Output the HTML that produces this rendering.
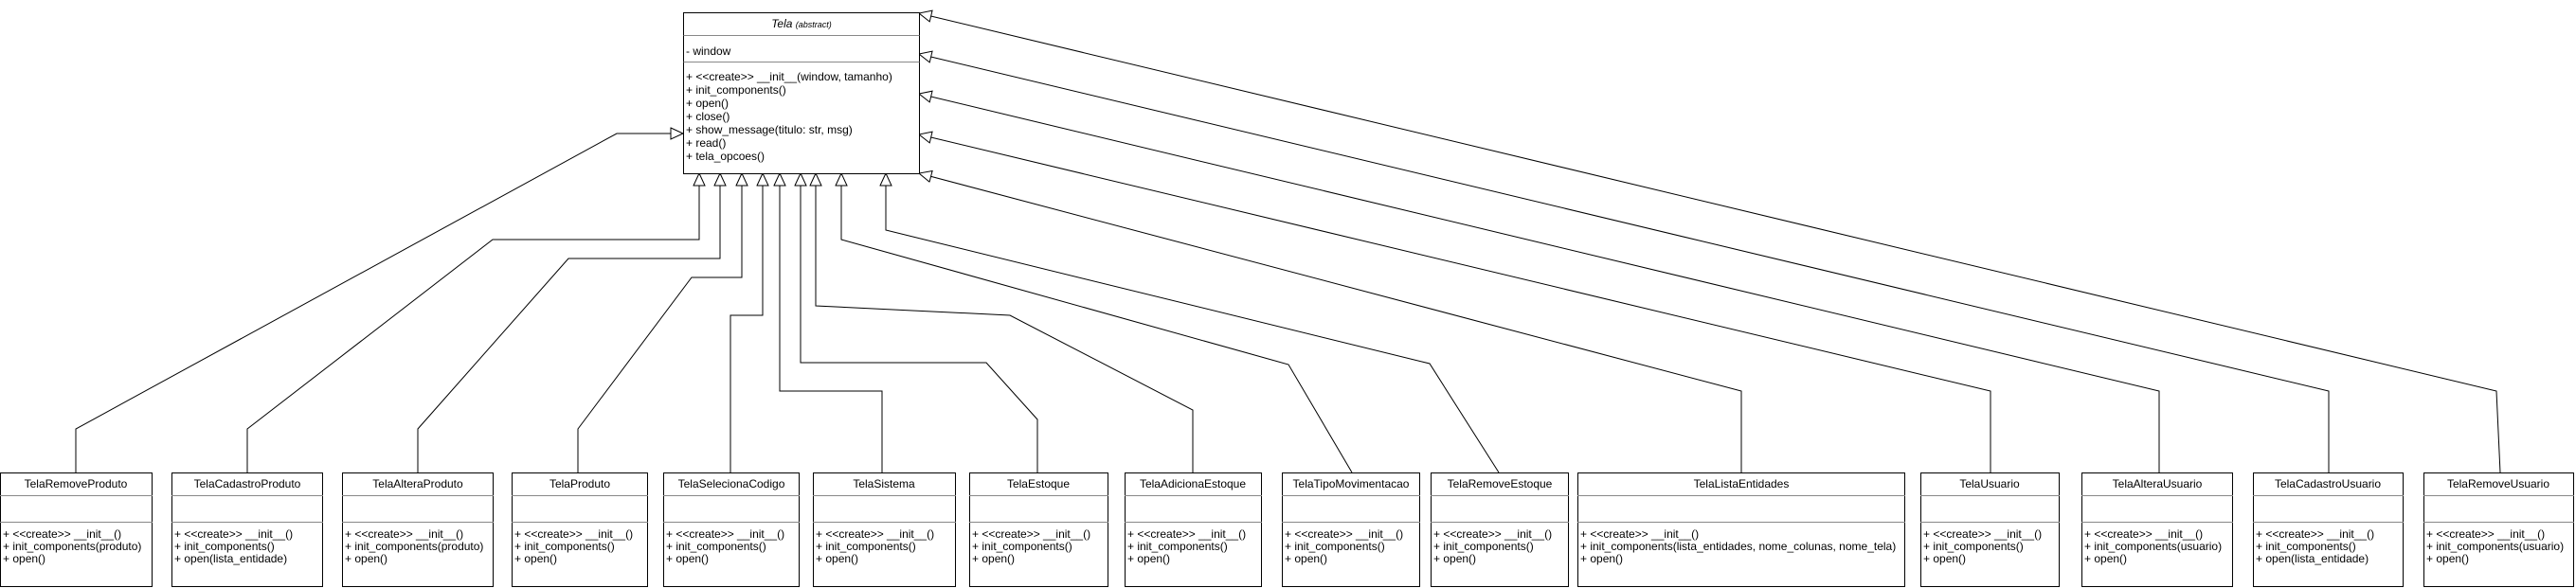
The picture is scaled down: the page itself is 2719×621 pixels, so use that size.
<!DOCTYPE html>
<html><head><meta charset="utf-8"><style>
html,body{margin:0;padding:0;background:#fff;}
svg{display:block;}
text{font-family:"Liberation Sans",Arial,sans-serif;font-size:12px;fill:#000;}
</style></head><body>
<svg width="2719" height="621" viewBox="0 0 2719 621" xmlns="http://www.w3.org/2000/svg">
<defs>
<marker id="a" markerUnits="userSpaceOnUse" markerWidth="16" markerHeight="14" refX="14" refY="6.5" orient="auto">
<path d="M1,0.5 L14,6.5 L1,12.5 Z" fill="#fff" stroke="#000" stroke-width="1"/>
</marker>
</defs>
<g fill="none" stroke="#000" stroke-width="1" marker-end="url(#a)">
<polyline points="80,499 80,453 651,141 721,141"/>
<polyline points="261,499 261,453 520,253 738,253 738,183"/>
<polyline points="441,499 441,453 600,273 760,273 760,183"/>
<polyline points="610,499 610,453 730,293 783,293 783,183"/>
<polyline points="771,499 771,333 805,333 805,183"/>
<polyline points="931,499 931,413 823,413 823,183"/>
<polyline points="1095,499 1095,443 1041,383 845,383 845,183"/>
<polyline points="1259,499 1259,433 1066,333 861,323 861,183"/>
<polyline points="1427,499 1360,385 888,253 888,183"/>
<polyline points="1582,499 1509,384 935,243 935,183"/>
<polyline points="1838,499 1838,413 970,183"/>
<polyline points="2101,499 2101,413 970,142"/>
<polyline points="2279,499 2279,413 970,99"/>
<polyline points="2458,499 2458,413 970,57"/>
<polyline points="2639,499 2635,413 970,14"/>
</g>

<!-- Tela -->
<rect x="721.5" y="13.5" width="249" height="170" fill="#fff" stroke="#000"/>
<line x1="721.5" y1="37.5" x2="970.5" y2="37.5" stroke="#888"/>
<line x1="721.5" y1="65.5" x2="970.5" y2="65.5" stroke="#888"/>
<text x="846" y="29" text-anchor="middle" font-style="italic">Tela <tspan font-size="9">(abstract)</tspan></text>
<text x="724" y="58">- window</text>
<text x="724" y="85">+ &lt;&lt;create&gt;&gt; __init__(window, tamanho)</text>
<text x="724" y="99">+ init_components()</text>
<text x="724" y="113">+ open()</text>
<text x="724" y="127">+ close()</text>
<text x="724" y="141">+ show_message(titulo: str, msg)</text>
<text x="724" y="155">+ read()</text>
<text x="724" y="169">+ tela_opcoes()</text>

<g id="boxes">
<!-- boxes generated inline -->
</g>
<g fill="#fff" stroke="#000">
<rect x="0.5" y="499.5" width="160" height="120"/>
<rect x="181.5" y="499.5" width="159" height="120"/>
<rect x="361.5" y="499.5" width="159" height="120"/>
<rect x="540.5" y="499.5" width="143" height="120"/>
<rect x="700.5" y="499.5" width="143" height="120"/>
<rect x="858.5" y="499.5" width="150" height="120"/>
<rect x="1023.5" y="499.5" width="146" height="120"/>
<rect x="1187.5" y="499.5" width="144" height="120"/>
<rect x="1353.5" y="499.5" width="145" height="120"/>
<rect x="1510.5" y="499.5" width="145" height="120"/>
<rect x="1665.5" y="499.5" width="345" height="120"/>
<rect x="2027.5" y="499.5" width="146" height="120"/>
<rect x="2197.5" y="499.5" width="159" height="120"/>
<rect x="2378.5" y="499.5" width="158" height="120"/>
<rect x="2558.5" y="499.5" width="158" height="120"/>
</g>
<g stroke="#888">
<path d="M0,523.5H161 M0,551.5H161
M181,523.5H341 M181,551.5H341
M361,523.5H521 M361,551.5H521
M540,523.5H684 M540,551.5H684
M700,523.5H844 M700,551.5H844
M858,523.5H1009 M858,551.5H1009
M1023,523.5H1170 M1023,551.5H1170
M1187,523.5H1332 M1187,551.5H1332
M1353,523.5H1499 M1353,551.5H1499
M1510,523.5H1656 M1510,551.5H1656
M1665,523.5H2011 M1665,551.5H2011
M2027,523.5H2174 M2027,551.5H2174
M2197,523.5H2357 M2197,551.5H2357
M2378,523.5H2537 M2378,551.5H2537
M2558,523.5H2717 M2558,551.5H2717"/>
</g>
<g text-anchor="middle">
<text x="80" y="515">TelaRemoveProduto</text>
<text x="261" y="515">TelaCadastroProduto</text>
<text x="441" y="515">TelaAlteraProduto</text>
<text x="612" y="515">TelaProduto</text>
<text x="772" y="515">TelaSelecionaCodigo</text>
<text x="933" y="515">TelaSistema</text>
<text x="1096" y="515">TelaEstoque</text>
<text x="1259" y="515">TelaAdicionaEstoque</text>
<text x="1426" y="515">TelaTipoMovimentacao</text>
<text x="1583" y="515">TelaRemoveEstoque</text>
<text x="1838" y="515">TelaListaEntidades</text>
<text x="2100" y="515">TelaUsuario</text>
<text x="2277" y="515">TelaAlteraUsuario</text>
<text x="2457" y="515">TelaCadastroUsuario</text>
<text x="2637" y="515">TelaRemoveUsuario</text>
</g>
<g>
<text x="3" y="568">+ &lt;&lt;create&gt;&gt; __init__()</text><text x="3" y="581">+ init_components(produto)</text><text x="3" y="594">+ open()</text>
<text x="184" y="568">+ &lt;&lt;create&gt;&gt; __init__()</text><text x="184" y="581">+ init_components()</text><text x="184" y="594">+ open(lista_entidade)</text>
<text x="364" y="568">+ &lt;&lt;create&gt;&gt; __init__()</text><text x="364" y="581">+ init_components(produto)</text><text x="364" y="594">+ open()</text>
<text x="543" y="568">+ &lt;&lt;create&gt;&gt; __init__()</text><text x="543" y="581">+ init_components()</text><text x="543" y="594">+ open()</text>
<text x="703" y="568">+ &lt;&lt;create&gt;&gt; __init__()</text><text x="703" y="581">+ init_components()</text><text x="703" y="594">+ open()</text>
<text x="861" y="568">+ &lt;&lt;create&gt;&gt; __init__()</text><text x="861" y="581">+ init_components()</text><text x="861" y="594">+ open()</text>
<text x="1026" y="568">+ &lt;&lt;create&gt;&gt; __init__()</text><text x="1026" y="581">+ init_components()</text><text x="1026" y="594">+ open()</text>
<text x="1190" y="568">+ &lt;&lt;create&gt;&gt; __init__()</text><text x="1190" y="581">+ init_components()</text><text x="1190" y="594">+ open()</text>
<text x="1356" y="568">+ &lt;&lt;create&gt;&gt; __init__()</text><text x="1356" y="581">+ init_components()</text><text x="1356" y="594">+ open()</text>
<text x="1513" y="568">+ &lt;&lt;create&gt;&gt; __init__()</text><text x="1513" y="581">+ init_components()</text><text x="1513" y="594">+ open()</text>
<text x="1668" y="568">+ &lt;&lt;create&gt;&gt; __init__()</text><text x="1668" y="581">+ init_components(lista_entidades, nome_colunas, nome_tela)</text><text x="1668" y="594">+ open()</text>
<text x="2030" y="568">+ &lt;&lt;create&gt;&gt; __init__()</text><text x="2030" y="581">+ init_components()</text><text x="2030" y="594">+ open()</text>
<text x="2200" y="568">+ &lt;&lt;create&gt;&gt; __init__()</text><text x="2200" y="581">+ init_components(usuario)</text><text x="2200" y="594">+ open()</text>
<text x="2381" y="568">+ &lt;&lt;create&gt;&gt; __init__()</text><text x="2381" y="581">+ init_components()</text><text x="2381" y="594">+ open(lista_entidade)</text>
<text x="2561" y="568">+ &lt;&lt;create&gt;&gt; __init__()</text><text x="2561" y="581">+ init_components(usuario)</text><text x="2561" y="594">+ open()</text>
</g>
</svg>
</body></html>
